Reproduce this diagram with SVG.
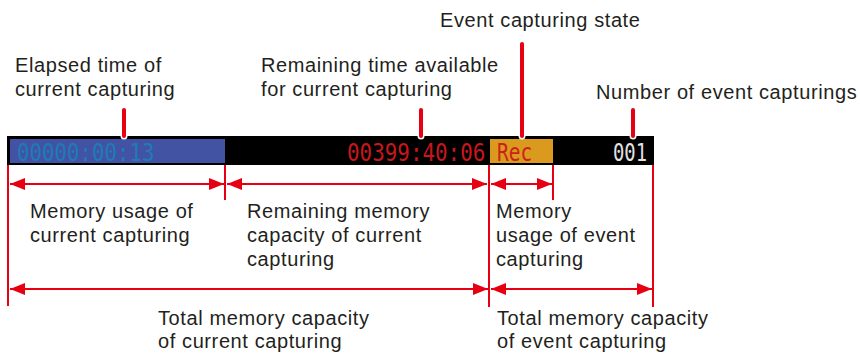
<svg xmlns="http://www.w3.org/2000/svg" width="860" height="354" viewBox="0 0 860 354">
<defs>
<style>
.lbl{font-family:"Liberation Sans",Arial,sans-serif;font-size:20px;fill:#231f20;letter-spacing:0.6px}
.lcd{font-family:"DejaVu Sans Mono",monospace;font-size:25px}
.ext{stroke:#e60012;stroke-width:2;fill:none}
.dim{stroke:#e60012;stroke-width:2;fill:none;marker-start:url(#ah);marker-end:url(#ah)}
.leadW{stroke:#ffffff;stroke-width:7;stroke-linecap:round}
.lead{stroke:#e60012;stroke-width:4;stroke-linecap:round}
</style>
<marker id="ah" viewBox="0 0 15 12" refX="15" refY="6" markerWidth="15" markerHeight="12" markerUnits="userSpaceOnUse" orient="auto-start-reverse">
<path d="M0,0 L15,6 L0,12 z" fill="#e60012"/>
</marker>
</defs>
<rect x="0" y="0" width="860" height="354" fill="#ffffff"/>

<g id="display">
<rect x="7" y="136" width="647" height="29" fill="#000000"/>
<rect x="10" y="139" width="215" height="24" fill="#4353a3"/>
<text class="lcd" transform="translate(17,161) scale(0.83,1)" fill="#1f7ab8">00000:00:13</text>
<text class="lcd" transform="translate(347,161) scale(0.836,1)" fill="#c8161d">00399:40:06</text>
<rect x="490" y="139" width="63" height="24" fill="#d99a1e"/>
<text class="lcd" transform="translate(497,161) scale(0.78,1)" fill="#cc1f1a">Rec</text>
<text class="lcd" transform="translate(613,161) scale(0.755,1)" fill="#e2e2e2">001</text>
</g>

<g id="connectors">
<line class="leadW" x1="124" y1="110" x2="124" y2="136"/>
<line class="lead" x1="124" y1="110" x2="124" y2="136"/>
<line class="leadW" x1="421" y1="110" x2="421" y2="136"/>
<line class="lead" x1="421" y1="110" x2="421" y2="136"/>
<line class="leadW" x1="522" y1="44" x2="522" y2="136"/>
<line class="lead" x1="522" y1="44" x2="522" y2="136"/>
<line class="leadW" x1="633" y1="110" x2="633" y2="136"/>
<line class="lead" x1="633" y1="110" x2="633" y2="136"/>

<line class="ext" x1="8" y1="165" x2="8" y2="306"/>
<line class="ext" x1="225" y1="165" x2="225" y2="200"/>
<line class="ext" x1="489" y1="165" x2="489" y2="307"/>
<line class="ext" x1="553" y1="165" x2="553" y2="200"/>
<line class="ext" x1="653" y1="165" x2="653" y2="307"/>

<line class="dim" x1="10" y1="184" x2="224" y2="184"/>
<line class="dim" x1="227" y1="184" x2="487" y2="184"/>
<line class="dim" x1="491" y1="184" x2="552" y2="184"/>
<line class="dim" x1="10" y1="289" x2="488" y2="289"/>
<line class="dim" x1="491" y1="289" x2="652" y2="289"/>
</g>

<g id="label-elapsed">
<text class="lbl" x="15" y="72">Elapsed time of</text>
<text class="lbl" x="15" y="96">current capturing</text>
</g>
<g id="label-remaining-time">
<text class="lbl" x="261" y="72">Remaining time available</text>
<text class="lbl" x="261" y="96">for current capturing</text>
</g>
<g id="label-event-state">
<text class="lbl" x="440" y="27">Event capturing state</text>
</g>
<g id="label-number">
<text class="lbl" x="596" y="99">Number of event capturings</text>
</g>
<g id="label-memory-usage">
<text class="lbl" x="30" y="218">Memory usage of</text>
<text class="lbl" x="30" y="242">current capturing</text>
</g>
<g id="label-remaining-memory">
<text class="lbl" x="247" y="218">Remaining memory</text>
<text class="lbl" x="247" y="242">capacity of current</text>
<text class="lbl" x="247" y="266">capturing</text>
</g>
<g id="label-event-usage">
<text class="lbl" x="496" y="218">Memory</text>
<text class="lbl" x="496" y="242">usage of event</text>
<text class="lbl" x="496" y="266">capturing</text>
</g>
<g id="label-total-current">
<text class="lbl" x="158" y="325">Total memory capacity</text>
<text class="lbl" x="158" y="348">of current capturing</text>
</g>
<g id="label-total-event">
<text class="lbl" x="497" y="325">Total memory capacity</text>
<text class="lbl" x="497" y="348">of event capturing</text>
</g>
</svg>
